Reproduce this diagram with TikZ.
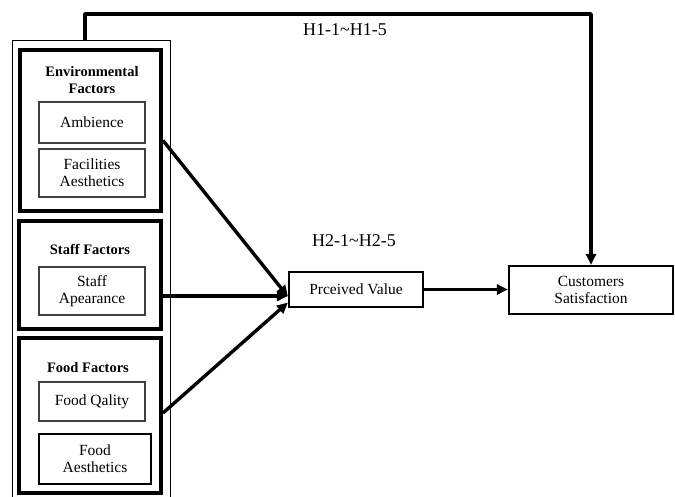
\documentclass[tikz,border=0pt]{standalone}
\usepackage{fontspec}
\setmainfont{Liberation Serif}
\usetikzlibrary{arrows.meta}
\begin{document}
\begin{tikzpicture}[x=1pt,y=-1pt,
  txt/.style={font=\fontsize{15.5}{17}\selectfont, align=center, inner sep=0pt},
  ttl/.style={font=\fontsize{14.5}{17}\selectfont\bfseries, align=center, inner sep=0pt},
  lbl/.style={font=\fontsize{18}{20}\selectfont, inner sep=0pt},
  thinbox/.style={draw=black!75, line width=1.2pt, inner sep=0pt, txt},
  grpbox/.style={draw, line width=4pt, inner sep=0pt},
  outbox/.style={draw, line width=1pt, inner sep=0pt},
  mainbox/.style={draw, line width=2.2pt, inner sep=0pt, txt},
  arr/.style={line width=3.4pt, -{Triangle[length=11pt,width=10pt]}}
]
\useasboundingbox (0,0) rectangle (675,496);
\fill[white] (0,0) rectangle (675,496);

\node[outbox, minimum width=158, minimum height=470] (outer) at (91,275) {};

\node[grpbox, minimum width=141, minimum height=161] (env) at (90.5,130.5) {};
\node[ttl] (envt) at (92,80.5) {Environmental\\Factors};
\node[thinbox, minimum width=106, minimum height=41] (amb) at (92,122.5) {Ambience};
\node[thinbox, minimum width=106, minimum height=48] (fac) at (92,173) {Facilities\\Aesthetics};

\node[grpbox, minimum width=142, minimum height=108] (staff) at (90,275) {};
\node[ttl] (stafft) at (90,249) {Staff Factors};
\node[thinbox, minimum width=106, minimum height=48] (sapp) at (92,291) {Staff\\Apearance};

\node[grpbox, minimum width=142, minimum height=155] (food) at (90,415.5) {};
\node[ttl] (foodt) at (88,368) {Food Factors};
\node[thinbox, minimum width=106, minimum height=39] (fq) at (92,401.5) {Food Qality};
\node[thinbox, draw=black, minimum width=112, minimum height=50] (fa) at (95,459) {Food\\Aesthetics};

\node[mainbox, minimum width=134, minimum height=35] (pv) at (356,289.5) {Prceived Value};
\node[mainbox, minimum width=164, minimum height=48] (cs) at (591,290) {Customers\\Satisfaction};

\node[lbl] (h1) at (345,30) {H1-1\textasciitilde H1-5};
\node[lbl] (h2) at (354,241) {H2-1\textasciitilde H2-5};

\draw[arr] ([yshift=-10pt]env.east) -- ([yshift=-7pt]pv.west);
\draw[arr] ([yshift=-21pt]staff.east) -- ([yshift=-6.5pt]pv.west);
\draw[arr] ([yshift=2.5pt]food.east) -- ([yshift=-13pt]pv.west);
\draw[arr] (pv.east) -- (cs.west |- pv.east);
\coordinate (topstart) at (85,40);
\draw[arr, line join=round] (topstart) -- (85,14) -| (cs.north);
\end{tikzpicture}
\end{document}
